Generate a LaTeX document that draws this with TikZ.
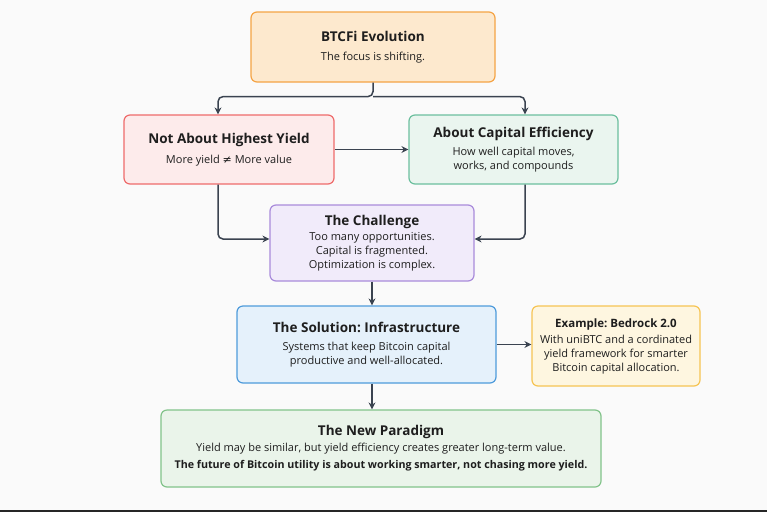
\documentclass[tikz,border=0pt]{standalone}
\usepackage{fontspec}
\setmainfont{Open Sans}
\newfontfamily\symfont{DejaVu Sans}
\usetikzlibrary{arrows.meta}
\frenchspacing
\definecolor{bgc}{HTML}{FAFAFA}
\definecolor{arrc}{HTML}{3A4350}
\definecolor{txtc}{HTML}{1E1E1E}
\definecolor{orF}{HTML}{FDE9CE}\definecolor{orD}{HTML}{F5A445}
\definecolor{rdF}{HTML}{FDEBEB}\definecolor{rdD}{HTML}{EE6B6B}
\definecolor{gnF}{HTML}{EAF5EF}\definecolor{gnD}{HTML}{6CBF9E}
\definecolor{puF}{HTML}{F1EBFA}\definecolor{puD}{HTML}{A98BDB}
\definecolor{blF}{HTML}{E5F1FB}\definecolor{blD}{HTML}{4E9BDB}
\definecolor{yeF}{HTML}{FEF6E0}\definecolor{yeD}{HTML}{F6C453}
\definecolor{npF}{HTML}{EAF4EA}\definecolor{npD}{HTML}{82C38A}
\tikzset{
  box/.style={draw, line width=1.2pt, rounded corners=6pt, align=center,
    inner sep=0pt, text=txtc, font=\frenchspacing\fontsize{11}{14}\selectfont},
  arr/.style={draw=arrc, line width=1.5pt, rounded corners=5pt,
    -{Stealth[length=7pt,width=7pt]}}
}
\newcommand{\ttlx}[1]{{\fontsize{13.5}{16}\selectfont\bfseries #1}}
\begin{document}
\begin{tikzpicture}[x=1pt,y=-1pt]
\fill[bgc] (0,0) rectangle (767,512);
\useasboundingbox (0,0) rectangle (767,512);
\fill[black!85] (0,509.5) rectangle (767,512);

\node[box, fill=orF, draw=orD, minimum width=244pt, minimum height=70pt] (top) at (373,47)
  {\ttlx{BTCFi Evolution}\\[5pt] The focus is shifting.};
\node[box, fill=rdF, draw=rdD, minimum width=210pt, minimum height=69pt] (red) at (229,149.5)
  {\ttlx{Not About Highest Yield}\\[6pt] More yield {\symfont ≠} More value};
\node[box, fill=gnF, draw=gnD, minimum width=209pt, minimum height=69pt] (grn) at (513.5,149.5)
  {\ttlx{About Capital Efficiency}\\[4pt] How well capital moves,\\ works, and compounds};
\node[box, fill=puF, draw=puD, minimum width=204pt, minimum height=76pt] (chal) at (372,243)
  {\ttlx{The Challenge}\\[1pt] Too many opportunities.\\ Capital is fragmented.\\ Optimization is complex.};
\node[box, fill=blF, draw=blD, minimum width=259pt, minimum height=77pt] (sol) at (366.5,344.5)
  {\ttlx{The Solution: Infrastructure}\\[4pt] Systems that keep Bitcoin capital\\ productive and well-allocated.};
\node[box, fill=yeF, draw=yeD, minimum width=168pt, minimum height=80pt] (ex) at (616,346)
  {{\fontsize{11.5}{14}\selectfont\bfseries Example: Bedrock 2.0}\\[2pt] With uniBTC and a cordinated\\ yield framework for smarter\\ Bitcoin capital allocation.};
\node[box, fill=npF, draw=npD, minimum width=440pt, minimum height=77pt] (np) at (381,448.5)
  {\ttlx{The New Paradigm}\\[2pt] Yield may be similar, but yield efficiency creates greater long-term value.\\[3pt] {\fontsize{10.7}{14}\selectfont\bfseries The future of Bitcoin utility is about working smarter, not chasing more yield.}};

\coordinate (split) at ([yshift=-14pt]top.south);
\coordinate (redin) at ([xshift=-11pt]red.north);
\coordinate (grnin) at ([xshift=11.5pt]grn.north);
\coordinate (redout) at ([xshift=-11pt]red.south);
\coordinate (grnout) at ([xshift=11.5pt]grn.south);
\coordinate (chalL) at ([yshift=4pt]chal.west);
\coordinate (chalR) at ([yshift=4pt]chal.east);

\draw[arr] (top.south) -- (split) -| (redin);
\draw[arr] (split) -| (grnin);
\draw[arr] (red.east) -- (grn.west);
\draw[arr] (redout) |- (chalL);
\draw[arr] (grnout) |- (chalR);
\draw[arr] (chal.south) -- (chal.south |- sol.north);
\draw[arr] (sol.east) -- (sol.east -| ex.west);
\draw[arr] (chal.south |- sol.south) -- (chal.south |- np.north);
\end{tikzpicture}
\end{document}
